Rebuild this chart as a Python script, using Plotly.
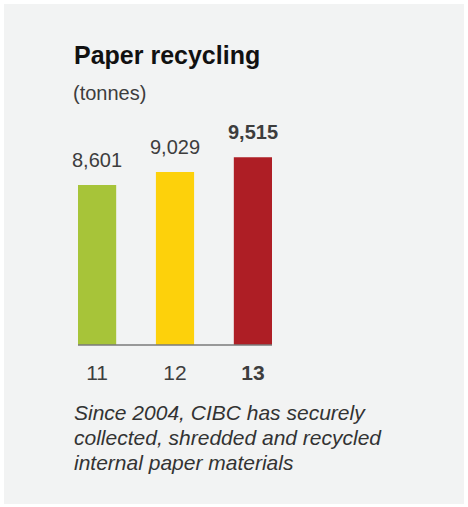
import plotly.graph_objects as go

# Paper recycled per fiscal year, tonnes
years = ["11", "12", "13"]
tonnes = [8601, 9029, 9515]
value_labels = ["8,601", "9,029", "<b>9,515</b>"]
tick_labels = ["11", "12", "<b>13</b>"]
bar_colors = ["#a7c439", "#fdd10b", "#ae1e25"]

title_text = "<b>Paper recycling</b>"
unit_text = "(tonnes)"
note_lines = [
    "Since 2004, CIBC has securely",
    "collected, shredded and recycled",
    "internal paper materials",
]

W, H = 468, 507
L, R, T, B = 78, 196, 100, 162
plot_w = W - L - R
plot_h = H - T - B
y_min = 3321
units_per_px = 33.0
y_max = y_min + plot_h * units_per_px


def px_x(p):
    return (p - L) / plot_w


def px_y(p):
    return (H - B - p) / plot_h


TEXT = "#3d3d3d"
FONT = "Liberation Sans, Arial, Helvetica, sans-serif"

fig = go.Figure()
fig.add_trace(go.Bar(
    x=years,
    y=tonnes,
    width=0.49,
    marker=dict(color=bar_colors, line=dict(width=0)),
    hoverinfo="skip",
    cliponaxis=True,
))

# value labels above each bar (category index positions on the x axis)
for idx, (val, lab) in enumerate(zip(tonnes, value_labels)):
    fig.add_annotation(
        x=idx, y=val, xref="x", yref="y", text=lab,
        xanchor="center", yanchor="bottom", yshift=12,
        showarrow=False, font=dict(family=FONT, size=20, color=TEXT),
    )

# light grey panel behind everything
fig.add_shape(
    type="rect", xref="paper", yref="paper",
    x0=px_x(4), x1=px_x(464), y0=px_y(504), y1=px_y(4),
    fillcolor="#f2f3f3", line=dict(width=0), layer="below",
)

# baseline under the bars
fig.add_shape(
    type="line", xref="paper", yref="paper",
    x0=0, x1=1, y0=0, y1=0,
    line=dict(color="#7a7a7a", width=1.5), layer="above",
)

fig.add_annotation(
    text=title_text, xref="paper", yref="paper",
    x=px_x(72), y=px_y(55), xanchor="left", yanchor="middle",
    showarrow=False, font=dict(family=FONT, size=25, color="#111111"),
)
fig.add_annotation(
    text=unit_text, xref="paper", yref="paper",
    x=px_x(71), y=px_y(93), xanchor="left", yanchor="middle",
    showarrow=False, font=dict(family=FONT, size=20, color=TEXT),
)
for i, line in enumerate(note_lines):
    fig.add_annotation(
        text=f"<i>{line}</i>", xref="paper", yref="paper",
        x=px_x(72), y=px_y(412 + 25 * i), xanchor="left", yanchor="middle",
        showarrow=False, font=dict(family=FONT, size=21, color="#333333"),
    )

fig.update_layout(
    width=W, height=H,
    margin=dict(l=L, r=R, t=T, b=B, pad=0),
    paper_bgcolor="white",
    plot_bgcolor="rgba(0,0,0,0)",
    showlegend=False,
    xaxis=dict(
        type="category",
        range=[-0.245, 2.245],
        tickmode="array", tickvals=years, ticktext=tick_labels,
        tickfont=dict(family=FONT, size=21, color=TEXT),
        ticks="outside", ticklen=9, tickcolor="rgba(0,0,0,0)",
        showline=False, showgrid=False, zeroline=False,
        fixedrange=True, automargin=False,
    ),
    yaxis=dict(
        range=[y_min, y_max], visible=False, showgrid=False,
        zeroline=False, fixedrange=True, automargin=False,
    ),
)

fig.write_html("out.html")
